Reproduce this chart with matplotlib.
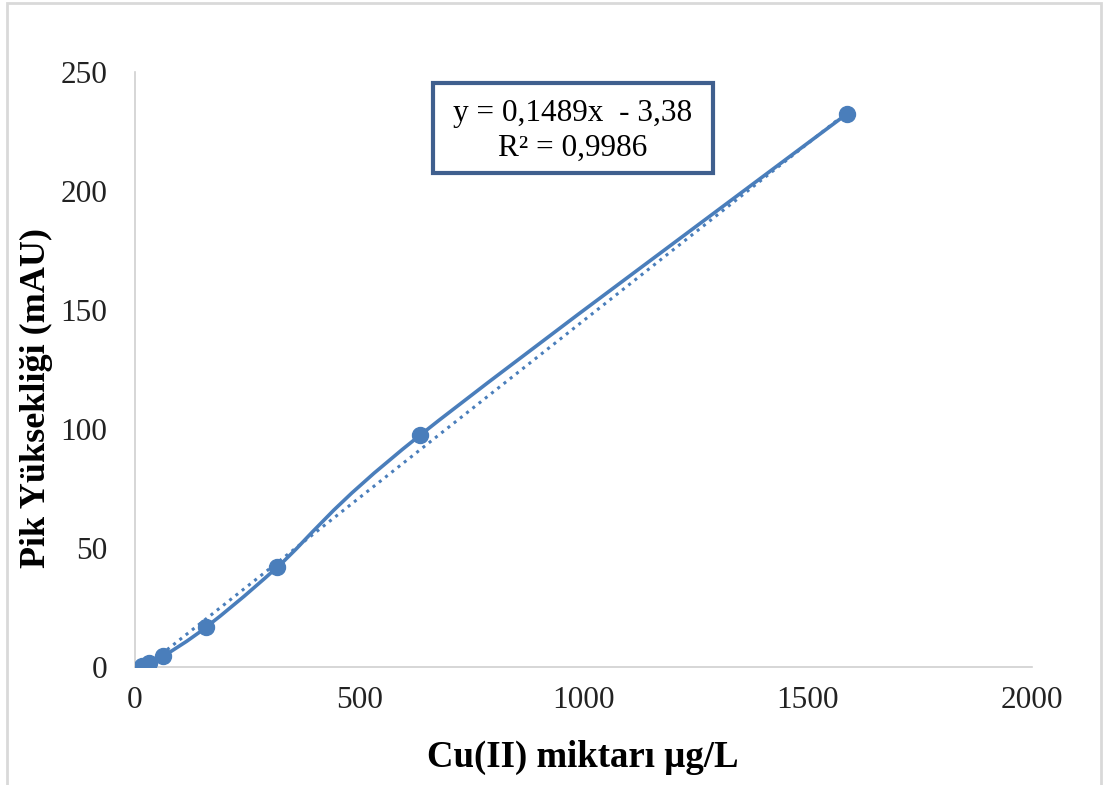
import matplotlib.pyplot as plt
import numpy as np
from matplotlib.path import Path
from matplotlib.patches import PathPatch, Rectangle

plt.rcParams["font.family"] = ["Liberation Serif", "DejaVu Serif"]

# Cu(II) calibration data
cu_ug_l = [15.9, 31.75, 63.5, 158.8, 317.5, 635.0, 1588.0]
peak_mau = [0.5, 1.7, 4.6, 16.8, 42.0, 97.3, 232.5]

SLOPE = 0.1489
INTERCEPT = -3.38
R2 = 0.9986

x_ticks = [0, 500, 1000, 1500, 2000]
y_ticks = [0, 50, 100, 150, 200, 250]

BLUE = "#4A7EBB"
W, H = 1103, 785


def smooth_path(xs, ys):
    # Bezier segments through the points ("smoothed line" style)
    pts = np.column_stack([xs, ys])
    n = len(pts)
    verts = [pts[0]]
    codes = [Path.MOVETO]
    for i in range(n - 1):
        p0 = pts[max(i - 1, 0)]
        p1 = pts[i]
        p2 = pts[i + 1]
        p3 = pts[min(i + 2, n - 1)]
        verts += [p1 + (p2 - p0) / 6.0, p2 - (p3 - p1) / 6.0, p2]
        codes += [Path.CURVE4] * 3
    return Path(verts, codes)


fig = plt.figure(figsize=(W / 100, H / 100), dpi=100)
ax = fig.add_axes([135 / W, 1 - 667 / H, (1032 - 135) / W, (667 - 72) / H])

# linear trendline from the fitted equation
xt = np.array([min(cu_ug_l), max(cu_ug_l)])
ax.plot(xt, SLOPE * xt + INTERCEPT, linestyle=(0, (1, 1.6)), color=BLUE, lw=2.2, zorder=2)

ax.add_patch(PathPatch(smooth_path(cu_ug_l, peak_mau), facecolor="none",
                       edgecolor=BLUE, lw=2.6, zorder=3))
ax.plot(cu_ug_l, peak_mau, "o", color=BLUE, markersize=11.5, zorder=4)

ax.set_xlim(0, 2000)
ax.set_ylim(0, 250)
ax.set_xticks(x_ticks)
ax.set_yticks(y_ticks)
ax.tick_params(length=0, labelsize=22.5, colors="#222222")
ax.tick_params(axis="y", pad=20)
ax.tick_params(axis="x", pad=14)
for side in ("top", "right"):
    ax.spines[side].set_visible(False)
for side in ("left", "bottom"):
    ax.spines[side].set_color("#D0D0D0")
    ax.spines[side].set_linewidth(1.2)

fig.text(583 / W, 1 - 767 / H, "Cu(II) miktarı µg/L", fontsize=26.5,
         fontweight="bold", ha="center", va="baseline")
fig.text(36 / W, 1 - 398 / H, "Pik Yüksekliği (mAU)", fontsize=26,
         fontweight="bold", ha="center", va="center", rotation=90)

# equation box
eq = f"y = {SLOPE:.4f}x  - {abs(INTERCEPT):.2f}".replace(".", ",")
r2 = f"R² = {R2:.4f}".replace(".", ",")
fig.patches.append(Rectangle((433 / W, 1 - 173 / H), 280 / W, 90 / H,
                             transform=fig.transFigure, facecolor="white",
                             edgecolor="#3F5F8E", lw=3, zorder=5))
fig.text(573 / W, 1 - 131 / H, eq + "\n" + r2, fontsize=22.5, ha="center",
         va="center", linespacing=1.25, zorder=6)

# outer chart border
fig.patches.append(Rectangle((7 / W, -0.05), 1094 / W, 1.05 - 3 / H,
                             transform=fig.transFigure, fill=False,
                             edgecolor="#D9D9D9", lw=2))

fig.savefig("out.png", dpi=100)
